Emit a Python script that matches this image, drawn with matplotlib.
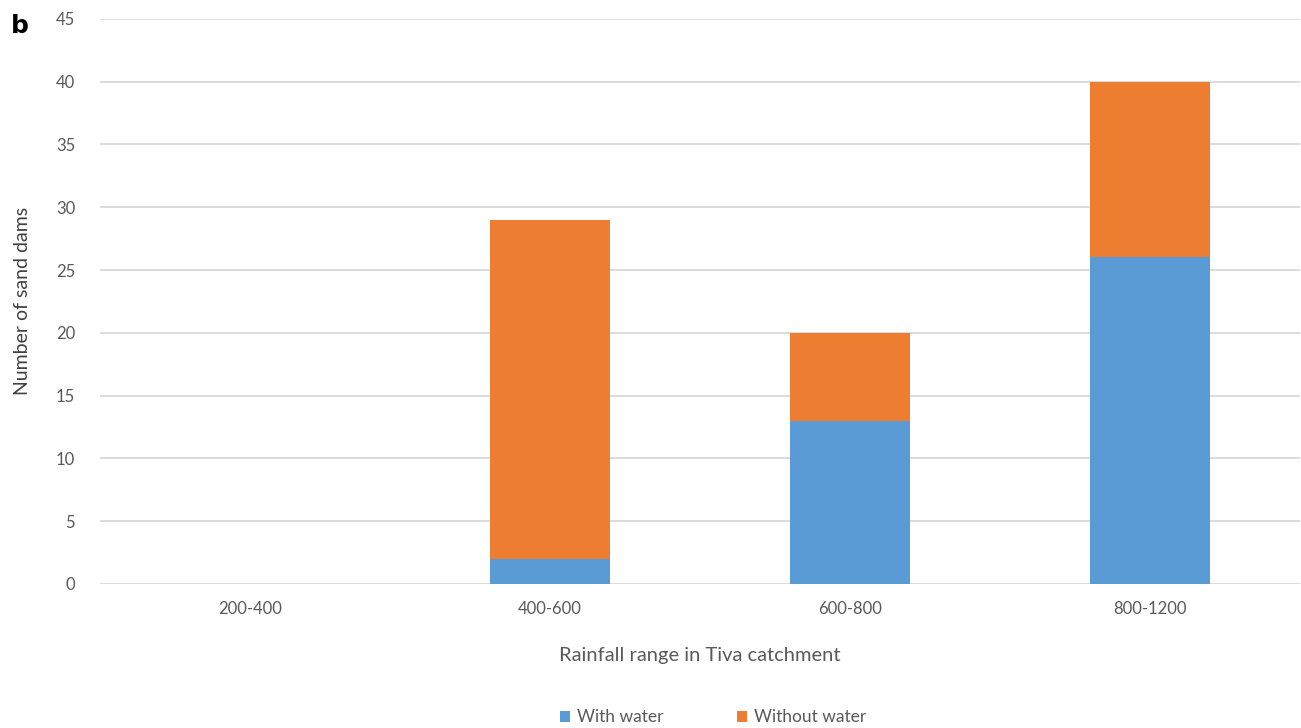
import matplotlib

matplotlib.use("Agg")
import matplotlib.pyplot as plt
import numpy as np

CATEGORIES = ["200-400", "400-600", "600-800", "800-1200"]
WITH_WATER = [0, 2, 13, 26]
WITHOUT_WATER = [0, 27, 7, 14]
Y_TICKS = list(range(0, 50, 5))

BLUE = "#5B9BD5"
ORANGE = "#ED7D31"
GRID = "#D9D9D9"
TEXT = "#595959"

plt.rcParams["font.family"] = ["Lato", "DejaVu Sans"]

fig = plt.figure(figsize=(13.01, 7.28), dpi=100)
ax = fig.add_axes([0.077, 0.198, 0.922, 0.776])

x = np.arange(len(CATEGORIES))
ax.bar(x, WITH_WATER, width=0.4, color=BLUE, label="With water", zorder=3)
ax.bar(x, WITHOUT_WATER, width=0.4, bottom=WITH_WATER, color=ORANGE,
       label="Without water", zorder=3)

ax.set_xlim(-0.5, len(CATEGORIES) - 0.5)
ax.set_ylim(0, 45)
ax.set_yticks(Y_TICKS)
ax.set_xticks(x, CATEGORIES)
ax.tick_params(length=0, labelsize=12, colors=TEXT, pad=18)
ax.tick_params(axis="x", pad=12)
ax.grid(axis="y", color=GRID, linewidth=1.3, zorder=0)
for spine in ax.spines.values():
    spine.set_visible(False)

ax.set_xlabel("Rainfall range in Tiva catchment", fontsize=14.5, color=TEXT, labelpad=22)
ax.set_ylabel("Number of sand dams", fontsize=14, color="#404040")
ax.yaxis.set_label_coords(-0.058, 0.5)

fig.legend(loc="lower center", bbox_to_anchor=(0.548, -0.018), ncol=2, frameon=False,
           fontsize=12.5, labelcolor=TEXT, handlelength=0.6, handleheight=0.6,
           columnspacing=4.2, handletextpad=0.4)
fig.text(0.008, 0.955, "b", fontsize=18, fontweight="bold", family="DejaVu Sans")

fig.savefig("out.png", dpi=100)
